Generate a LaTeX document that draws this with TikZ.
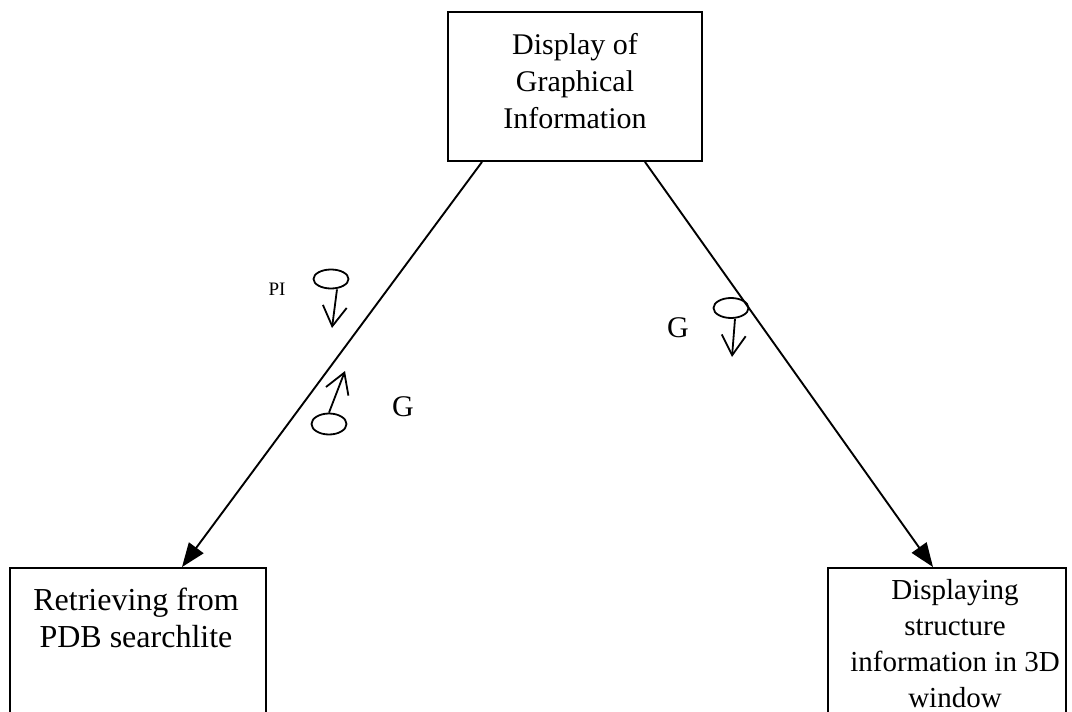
\documentclass[tikz,border=0pt]{standalone}
\usepackage{fontspec}
\setmainfont{Liberation Serif}
\usetikzlibrary{arrows.meta,shapes.geometric}
\begin{document}
\begin{tikzpicture}[x=1pt,y=-1pt,
  box/.style={draw,line width=1.9pt,rectangle,inner sep=0pt},
  boxtext/.style={align=center,anchor=north,inner sep=0pt,font=\fontsize{30}{37}\selectfont},
  conn/.style={line width=1.9pt,-{Triangle[length=24pt,width=18pt]}},
  tok/.style={draw,ellipse,line width=1.8pt,inner sep=0pt,minimum width=35pt,minimum height=19pt},
  flow/.style={line width=1.8pt,-{Straight Barb[length=20pt,width=24pt,line width=1.8pt]}},
  lbl/.style={inner sep=0pt,font=\fontsize{30}{32}\selectfont}]
\useasboundingbox (0,0) rectangle (1072,712);
\clip (0,0) rectangle (1072,712);
\fill[white] (0,0) rectangle (1072,712);
% boxes
\node[box,minimum width=254pt,minimum height=149pt] (top) at (575,86.5) {};
\node[box,minimum width=256pt,minimum height=162pt] (left) at (138,649) {};
\node[box,minimum width=238pt,minimum height=162pt] (right) at (947,649) {};
\node[boxtext] (toptxt) at (575,33) {Display of\\Graphical\\Information};
\node[boxtext,font=\fontsize{32}{37}\selectfont] (lefttxt) at (136,588) {Retrieving from\\PDB searchlite};
\node[boxtext,font=\fontsize{29}{36}\selectfont] (righttxt) at (955,579) {Displaying\\structure\\information in 3D\\window};
% connectors
\draw[conn] (top.south -| 482,0) -- (left.north -| 182,0);
\draw[conn] (top.south -| 645,0) -- (right.north -| 933,0);
% tokens
\node[tok] (e1) at (331,279) {};
\coordinate (t1) at (332,328);
\draw[flow] (e1.south -| 337,0) -- (t1);
\node[inner sep=0pt,font=\fontsize{19}{21}\selectfont] (pi) at (277,289) {PI};
\node[tok,minimum height=21pt] (e2) at (329,424) {};
\coordinate (t2) at (345,371);
\draw[flow] (e2.north) -- (t2);
\node[lbl] (g1) at (403,407) {G};
\node[tok,minimum height=20pt] (e3) at (731,308) {};
\coordinate (t3) at (732,357);
\draw[flow] (e3.south -| 735,0) -- (t3);
\node[lbl] (g2) at (678,328) {G};
\end{tikzpicture}
\end{document}
